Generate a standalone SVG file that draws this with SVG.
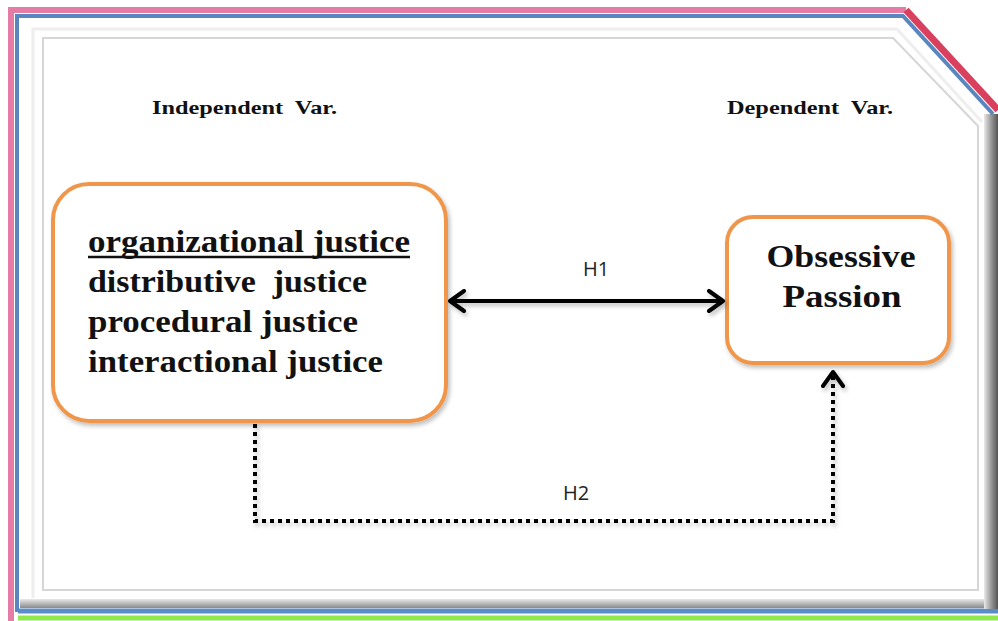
<svg xmlns="http://www.w3.org/2000/svg" width="998" height="621" viewBox="0 0 998 621">
<defs>
<style>
.node{fill:#ffffff;stroke:#F0964B;stroke-width:4}
.big{font-family:"Liberation Serif","Times New Roman",serif;font-weight:bold;font-size:32px;fill:#111}
.hdr{font-family:"Liberation Serif","Times New Roman",serif;font-weight:bold;font-size:19px;fill:#111}
.lbl{font-family:"Open Sans","Liberation Sans",sans-serif;font-size:20px;fill:#222}
.solid{fill:none;stroke:#000;stroke-width:4}
.dot{fill:none;stroke:#000;stroke-width:4;stroke-dasharray:4 4}
</style>
<linearGradient id="rg" x1="0" y1="0" x2="1" y2="0">
<stop offset="0" stop-color="#e8e8e8"/>
<stop offset="0.5" stop-color="#9a9a9a"/>
<stop offset="1" stop-color="#555"/>
</linearGradient>
<linearGradient id="bg" x1="0" y1="0" x2="0" y2="1">
<stop offset="0" stop-color="#e8e8e8"/>
<stop offset="1" stop-color="#8a8a8a"/>
</linearGradient>
<filter id="sh" x="-10%" y="-10%" width="130%" height="140%">
<feDropShadow dx="2" dy="3" stdDeviation="2" flood-color="#000" flood-opacity="0.25"/>
</filter>
<marker id="chev" viewBox="0 0 20 24" refX="17" refY="12" markerWidth="20" markerHeight="24" markerUnits="userSpaceOnUse" orient="auto-start-reverse">
<path d="M3,2 L17,12 L3,22" fill="none" stroke="#000" stroke-width="4" stroke-linecap="round" stroke-linejoin="round"/>
</marker>
</defs>
<rect x="0" y="0" width="998" height="621" fill="#ffffff"/>
<g id="frame">
<path d="M33,598 L33,29 L897,29 L982,122" fill="none" stroke="#eeeeee" stroke-width="3"/>
<path d="M43,590 L43,38 L893,38 L978,126 L978,590 Z" fill="#ffffff" stroke="#d6d6d6" stroke-width="2"/>
<rect x="20" y="599" width="970" height="9" fill="url(#bg)"/>
<line x1="18" y1="611" x2="998" y2="611" stroke="#5A8CC8" stroke-width="5"/>
<line x1="18" y1="618" x2="998" y2="618" stroke="#8FE84C" stroke-width="5"/>
<rect x="984" y="114" width="14" height="495" fill="url(#rg)"/>
<path d="M17,612 L17,16 L903,16 L993,114" fill="none" stroke="#5A86C0" stroke-width="4"/>
<path d="M11,621 L11,10 L906,10" fill="none" stroke="#E47CA6" stroke-width="6"/>
<line x1="906" y1="10" x2="998" y2="110" stroke="#D8405E" stroke-width="7"/>
</g>
<g id="headers">
<text class="hdr" x="152" y="114" textLength="185" lengthAdjust="spacingAndGlyphs" xml:space="preserve">Independent  Var.</text>
<text class="hdr" x="727" y="114" textLength="166" lengthAdjust="spacingAndGlyphs" xml:space="preserve">Dependent  Var.</text>
</g>
<g id="node-justice" filter="url(#sh)">
<rect class="node" x="53" y="184" width="393" height="237" rx="36"/>
</g>
<g id="node-justice-text">
<text class="big" x="88" y="252" textLength="322" lengthAdjust="spacingAndGlyphs">organizational justice</text>
<line x1="88" y1="257" x2="410" y2="257" stroke="#111" stroke-width="2.5"/>
<text class="big" x="88" y="292" textLength="279" lengthAdjust="spacingAndGlyphs" xml:space="preserve">distributive  justice</text>
<text class="big" x="88" y="332" textLength="270" lengthAdjust="spacingAndGlyphs">procedural justice</text>
<text class="big" x="88" y="372" textLength="295" lengthAdjust="spacingAndGlyphs">interactional justice</text>
</g>
<g id="node-passion" filter="url(#sh)">
<rect class="node" x="727" y="217" width="222" height="146" rx="26"/>
</g>
<g id="node-passion-text">
<text class="big" x="841" y="267" text-anchor="middle" textLength="149" lengthAdjust="spacingAndGlyphs">Obsessive</text>
<text class="big" x="842" y="307" text-anchor="middle" textLength="119" lengthAdjust="spacingAndGlyphs">Passion</text>
</g>
<g id="connectors" filter="url(#sh)">
<line class="solid" x1="450" y1="301" x2="723" y2="301" marker-start="url(#chev)" marker-end="url(#chev)"/>
<path class="dot" d="M255,424 L255,521 L833,521 L833,372" marker-end="url(#chev)"/>
</g>
<g id="labels">
<text class="lbl" x="596" y="276" text-anchor="middle">H1</text>
<text class="lbl" x="576" y="500" text-anchor="middle">H2</text>
</g>
</svg>
